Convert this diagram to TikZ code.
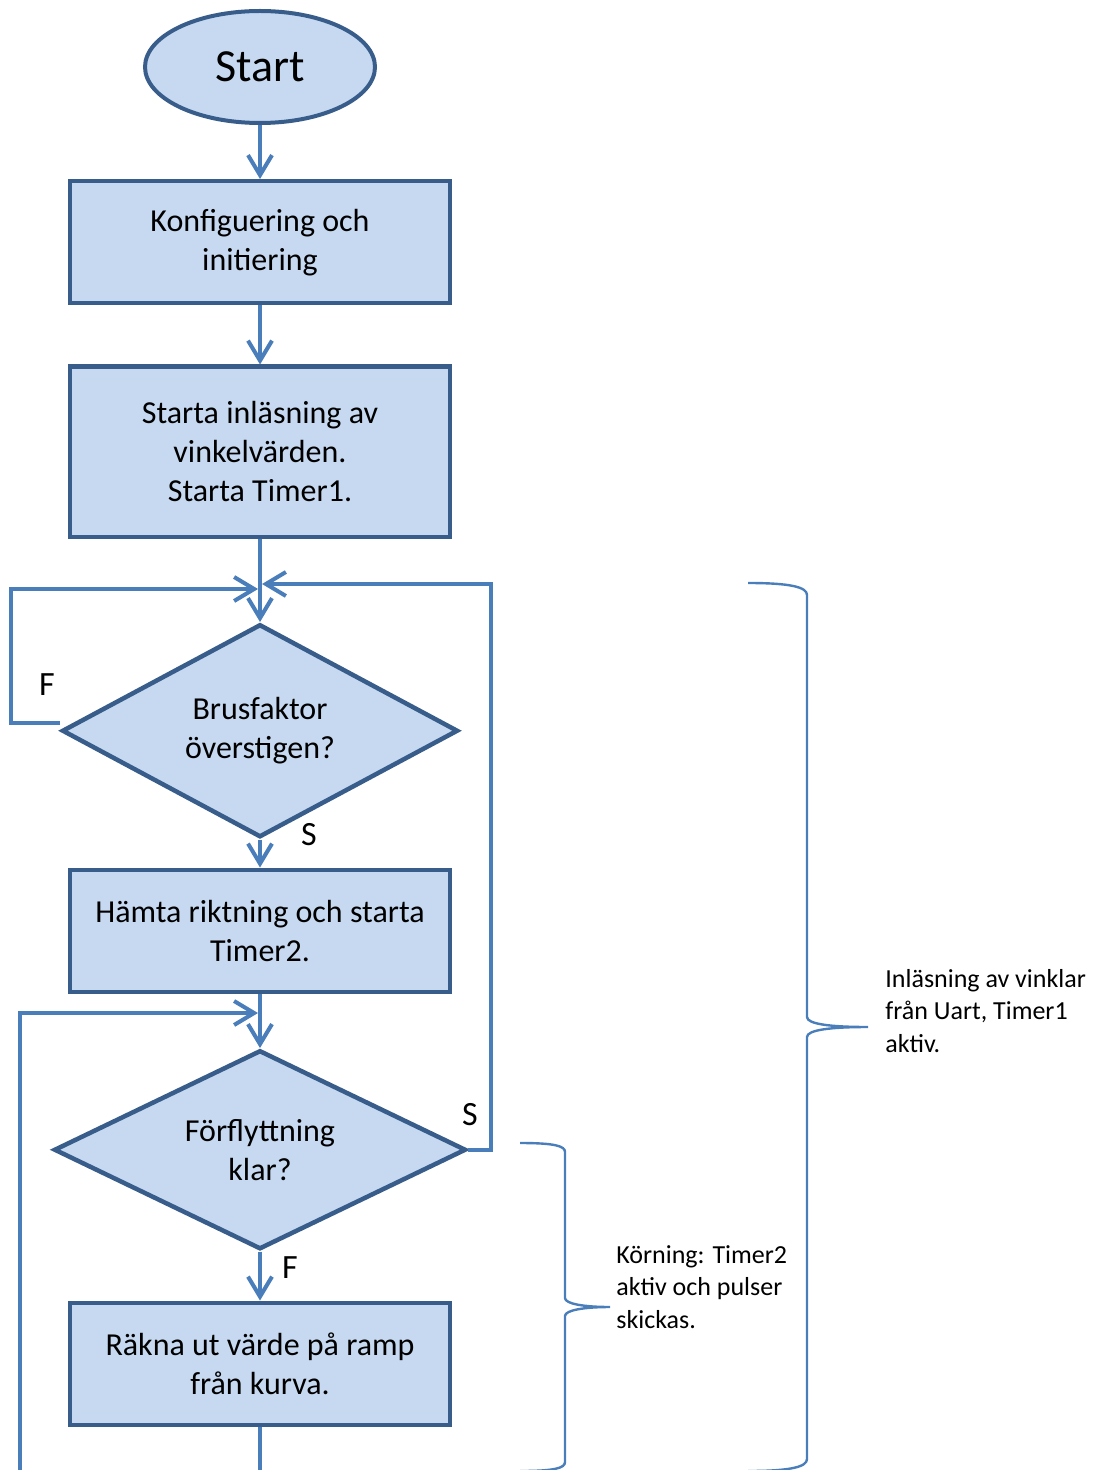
\documentclass[tikz,border=0pt]{standalone}
\usepackage{fontspec}
\setmainfont{Carlito}
\usetikzlibrary{arrows.meta,positioning,shapes.geometric}

\definecolor{boxfill}{HTML}{C6D9F1}
\definecolor{boxline}{HTML}{385D8A}
\definecolor{arrowline}{HTML}{4A7EBB}

\begin{document}
\begin{tikzpicture}[x=0.5pt,y=-0.5pt,>={Straight Barb[length=10pt,width=12pt]},
  line join=miter]
  \tikzstyle{every node}=[font=\fontsize{16}{19.5}\selectfont]
  \tikzstyle{terminal}=[ellipse,draw=boxline,fill=boxfill,line width=2pt,
    minimum width=115pt,minimum height=56pt,inner sep=0pt,
    font=\fontsize{23}{27}\selectfont]
  \tikzstyle{process}=[rectangle,draw=boxline,fill=boxfill,line width=2.25pt,
    minimum width=190pt,minimum height=61pt,align=center,inner sep=0pt]
  \tikzstyle{decision}=[diamond,aspect=1.9,draw=boxline,fill=boxfill,
    line width=2.25pt,align=center,inner sep=0pt]
  \tikzstyle{arrow}=[->,draw=arrowline,line width=2pt]
  \tikzstyle{lbl}=[font=\fontsize{17}{20}\selectfont]
  \tikzstyle{brace}=[draw=arrowline,line width=1.2pt]
  \tikzstyle{note}=[align=left,anchor=north west,inner sep=0pt,
    font=\fontsize{13}{16.25}\selectfont]

  \useasboundingbox (0,0) rectangle (1098,1470);

  \node[terminal] (start) at (260,67) {Start};
  \node[process]  (konf)  [below=27pt of start] {Konfiguering och\\initiering};
  \node[process,minimum height=85pt] (inlas) [below=29.5pt of konf]
    {Starta inläsning av\\vinkelvärden.\\Starta Timer1.};
  \node[decision,minimum width=198pt,minimum height=106.5pt] (brus)
    [below=41.5pt of inlas] {Brusfaktor\\överstigen?};
  \node[process]  (hamta) [below=14pt of brus] {Hämta riktning och starta\\Timer2.};
  \node[decision,minimum width=206pt,minimum height=99.5pt] (forfl)
    [below=27pt of hamta] {Förflyttning\\klar?};
  \node[process]  (rakna) [below=24.5pt of forfl] {Räkna ut värde på ramp\\från kurva.};

  \coordinate (mergeL) at (258,589);
  \coordinate (mergeR) at (262,584);
  \coordinate (mergeB) at (258,1013);
  \coordinate (loopF)  at (11,589);
  \coordinate (loopS)  at (491,584);
  \coordinate (loopB)  at (20,1482);

  \draw[arrow] (start) -- (konf);
  \draw[arrow] (konf) -- (inlas);
  \draw[arrow] (inlas) -- (brus);
  \draw[arrow] ([yshift=4pt]brus.west) -| (loopF) -- (mergeL);
  \draw[arrow] (brus) -- (hamta);
  \draw[arrow] (hamta) -- (forfl);
  \draw[arrow] (forfl.east) -| (loopS) -- (mergeR);
  \draw[arrow] (forfl) -- (rakna);
  \draw[arrow] (rakna.south) -- (rakna.south |- loopB) -- (loopB) |- (mergeB);

  \node[lbl] (labF1) at (47,685)  {F};
  \node[lbl] (labS1) at (309,835) {S};
  \node[lbl] (labS2) at (470,1115) {S};
  \node[lbl] (labF2) at (290,1268) {F};

  % braces
  \draw[brace] (748,583) .. controls (790,583) and (807,587) .. (807,595)
    -- (807,1017) .. controls (807,1024) and (830,1027) .. (868,1027)
    .. controls (830,1027) and (807,1030) .. (807,1037)
    -- (807,1459) .. controls (807,1467) and (790,1471) .. (748,1471);
  \draw[brace] (520,1143) .. controls (555,1143) and (565,1146) .. (565,1152)
    -- (565,1298) .. controls (565,1304) and (585,1307) .. (610,1307)
    .. controls (585,1307) and (565,1310) .. (565,1316)
    -- (565,1462) .. controls (565,1468) and (555,1471) .. (520,1471);

  \node[note] (noteInlas) at (885,969)  {Inläsning av vinklar\\från Uart, Timer1\\aktiv.};
  \node[note] (noteKorn)  at (616,1245) {Körning: Timer2\\aktiv och pulser\\skickas.};
\end{tikzpicture}
\end{document}
